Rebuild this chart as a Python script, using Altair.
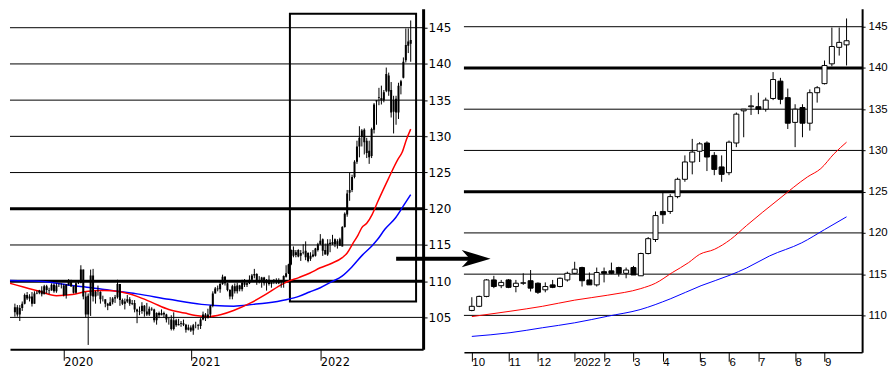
import json
import altair as alt
import pandas as pd

# ---------------- data ----------------
# weekly candles; week index 0 = first weekly candle of October 2021
HIST_FIRST_WEEK = -111

hist_open = [105.7, 106.4, 105.4, 106.3, 106.9, 108.1, 107.6, 107.9, 106.9, 108.3,
             108.4, 108.7, 108.2, 109.3, 108.8, 108.7, 109.5, 108.6, 109.4, 109.4,
             109.4, 108.1, 109.5, 110.1, 109.3, 108.4, 109.7, 109.8, 111.6, 107.9,
             105.4, 108.0, 110.8, 107.9, 108.5, 108.5, 107.5, 107.5, 106.9, 106.6,
             107.1, 107.6, 107.8, 109.6, 107.4, 106.9, 107.2, 107.5, 106.9, 107.0,
             106.1, 105.8, 105.9, 106.6, 105.8, 105.4, 106.2, 106.1, 104.6, 105.6,
             105.3, 105.6, 105.4, 104.7, 104.7, 103.4, 104.6, 103.9, 104.1, 104.2,
             104.0, 103.3, 103.6, 103.2, 103.9, 103.9, 103.8, 104.7, 105.4, 104.9,
             105.4, 106.6, 108.3, 109.0, 108.9, 109.6, 110.6, 109.7, 108.8, 107.9,
             109.3, 108.6, 109.4, 108.9, 109.8, 109.5, 109.7, 110.2, 110.8, 111.0,
             110.1, 110.1, 110.5, 109.7, 110.2, 109.6, 109.8, 109.8, 109.7, 109.9, 109.9]
hist_high = [106.9, 106.7, 106.7, 107.2, 108.3, 108.5, 108.2, 108.5, 108.6, 108.7,
             108.8, 109.3, 109.5, 109.5, 109.1, 109.7, 109.7, 109.7, 109.7, 109.7,
             109.6, 109.6, 110.3, 110.2, 109.3, 110.0, 110.1, 112.2, 111.6, 108.5,
             108.3, 111.6, 111.7, 108.7, 109.4, 108.6, 108.0, 107.5, 107.0, 107.8,
             107.8, 108.1, 110.2, 109.6, 107.6, 107.6, 108.1, 107.8, 107.4, 107.4,
             106.2, 106.5, 107.1, 106.7, 107.0, 106.5, 106.4, 106.2, 105.7, 105.8,
             106.1, 105.8, 105.5, 105.0, 105.3, 105.7, 104.8, 104.8, 104.5, 104.7,
             104.1, 104.0, 103.9, 104.1, 104.4, 104.1, 104.9, 105.8, 105.6, 106.2,
             106.7, 108.6, 109.2, 109.4, 109.9, 110.9, 110.7, 109.8, 108.9, 109.5,
             109.7, 109.8, 109.5, 110.2, 110.3, 109.8, 110.8, 111.0, 111.7, 111.1,
             110.7, 110.6, 110.6, 110.3, 110.8, 110.1, 110.3, 110.4, 110.4, 110.1, 110.8]
hist_low = [105.1, 105.1, 104.5, 105.9, 106.8, 107.4, 107.2, 106.5, 106.9, 108.2,
            108.2, 107.9, 108.2, 108.3, 108.2, 108.7, 108.4, 108.4, 109.2, 109.0,
            107.9, 107.6, 109.4, 109.2, 108.3, 108.3, 109.6, 109.7, 107.5, 105.0,
            101.2, 105.2, 107.2, 106.9, 108.0, 106.9, 107.2, 106.4, 106.0, 106.6,
            106.8, 107.0, 107.6, 106.6, 106.7, 106.1, 107.0, 106.6, 106.7, 105.7,
            104.2, 105.3, 105.5, 105.1, 105.2, 105.2, 105.9, 104.3, 104.0, 104.9,
            105.3, 105.0, 104.3, 104.0, 103.2, 103.2, 103.7, 103.9, 103.7, 103.8,
            102.9, 103.2, 103.0, 102.6, 103.5, 103.3, 103.4, 104.6, 104.5, 104.9,
            105.0, 106.4, 108.3, 108.6, 108.4, 109.5, 109.4, 108.6, 107.5, 107.5,
            108.3, 108.3, 108.6, 108.6, 109.2, 109.2, 109.6, 110.0, 110.4, 109.5,
            109.7, 109.1, 109.4, 108.7, 109.4, 109.1, 109.6, 109.6, 109.6, 109.1, 109.1]
hist_close = [106.4, 105.4, 106.3, 106.9, 108.1, 107.6, 107.9, 106.9, 108.3, 108.4,
              108.7, 108.2, 109.3, 108.8, 108.7, 109.5, 108.6, 109.4, 109.4, 109.4,
              108.1, 109.5, 110.1, 109.3, 108.4, 109.7, 109.8, 111.6, 107.9, 105.4,
              108.0, 110.8, 107.9, 108.5, 108.5, 107.5, 107.5, 106.9, 106.6, 107.1,
              107.6, 107.8, 109.6, 107.4, 106.9, 107.2, 107.5, 106.9, 107.0, 106.1,
              105.8, 105.9, 106.6, 105.8, 105.4, 106.2, 106.1, 104.6, 105.6, 105.3,
              105.6, 105.4, 104.7, 104.7, 103.4, 104.6, 103.9, 104.1, 104.2, 104.0,
              103.3, 103.6, 103.2, 103.9, 103.9, 103.8, 104.7, 105.4, 104.9, 105.4,
              106.6, 108.3, 109.0, 108.9, 109.6, 110.6, 109.7, 108.8, 107.9, 109.3,
              108.6, 109.4, 108.9, 109.8, 109.5, 109.7, 110.2, 110.8, 111.0, 110.1,
              110.1, 110.5, 109.7, 110.2, 109.6, 109.8, 109.8, 109.7, 109.9, 109.9, 110.7]

recent_open = [110.6, 111.1, 112.3, 114.3, 113.6, 114.3, 113.5, 113.9, 114.2, 113.9,
               113.1, 113.7, 113.5, 114.3, 115.1, 115.8, 114.3, 113.7, 115.3, 115.4,
               115.8, 115.1, 115.8, 114.8, 117.5, 119.2, 122.6, 122.6, 124.4, 126.5,
               128.6, 129.9, 130.9, 129.4, 128.0, 127.3, 130.9, 134.8, 135.3, 135.3,
               135.0, 136.3, 138.4, 136.4, 133.4, 135.2, 133.3, 137.0, 138.1, 140.5,
               142.5, 142.8]
recent_high = [112.2, 112.4, 114.4, 114.8, 114.3, 114.4, 114.3, 115.1, 115.5, 114.0,
               114.0, 114.3, 114.6, 115.3, 116.5, 115.9, 115.2, 115.8, 115.8, 116.4,
               115.9, 115.8, 116.0, 117.6, 119.5, 122.6, 125.0, 124.7, 126.7, 129.4,
               131.4, 131.0, 131.1, 129.8, 129.4, 131.2, 134.6, 135.0, 136.7, 137.0,
               136.4, 139.5, 138.8, 137.5, 135.6, 135.6, 137.4, 137.8, 140.9, 144.9,
               144.9, 146.0]
recent_low = [110.5, 111.0, 112.2, 113.3, 113.3, 113.3, 112.8, 113.7, 112.9, 112.6,
              112.8, 113.3, 113.4, 114.1, 115.0, 113.5, 113.7, 113.5, 114.0, 115.0,
              114.7, 114.5, 114.9, 114.8, 117.4, 118.9, 121.1, 122.3, 124.2, 126.2,
              127.1, 128.6, 127.5, 127.0, 126.2, 127.0, 130.4, 131.6, 134.3, 134.4,
              134.7, 136.1, 135.6, 132.6, 130.4, 131.6, 132.4, 135.8, 138.0, 140.2,
              141.5, 140.3]
recent_close = [111.1, 112.3, 114.3, 113.5, 114.0, 113.4, 113.9, 113.95, 113.3, 112.8,
                113.5, 113.4, 114.5, 115.1, 115.6, 114.2, 113.7, 115.2, 115.1, 115.1,
                115.1, 115.5, 114.9, 117.5, 119.3, 122.1, 122.2, 124.4, 126.5, 128.6,
                129.8, 130.8, 129.2, 127.7, 127.1, 131.0, 134.4, 135.0, 135.4, 135.0,
                136.1, 138.6, 136.2, 133.3, 135.0, 133.3, 137.0, 137.6, 140.3, 142.6,
                143.1, 143.3]

# moving averages (week, value)
red_ma_week = [-114, -107.5, -101, -94, -87.5, -81, -74.5, -67.5, -61, -54.5,
               -48, -41.5, -37, -32, -26.5, -21.5, -14.5, -8, -1.5, 0,
               5.2, 9.6, 14, 18.5, 23, 25, 27.3, 29.5, 31, 33,
               35.2, 37.4, 41.8, 45.7, 47.5, 49.3, 51]
red_ma_value = [109.8, 109.2, 108.6, 108.0, 108.15, 108.6, 108.7, 108.5, 107.9, 107.0,
                106.1, 105.6, 105.25, 105.1, 105.4, 105.95, 107.0, 108.25, 109.6, 109.85,
                110.5, 111.1, 111.85, 112.45, 113.25, 113.9, 115.2, 116.4, 117.4, 118.0,
                119.2, 120.9, 124.1, 126.8, 127.8, 129.6, 131.0]
blue_ma_week = [-114, -101, -87.6, -79.7, -74.4, -61, -48, -34.6, -29.3, -21.4,
                -13.4, -8, 0, 5.2, 9.6, 14, 18.5, 22.9, 27, 31.2,
                35.2, 37.4, 40.5, 44.9, 48, 51]
blue_ma_value = [110.1, 110.0, 109.4, 109.1, 108.85, 108.25, 107.5, 106.8, 106.65, 106.55,
                 106.8, 107.0, 107.45, 107.9, 108.5, 109.1, 109.9, 110.7, 112.0, 113.6,
                 114.9, 115.75, 117.2, 118.8, 120.4, 121.95]

left_ticks = [-91, -39, 14]
left_tick_labels = ["2020", "2021", "2022"]
right_ticks = [0, 5, 9, 14, 18, 22, 26, 31, 35, 39, 44, 48]
right_tick_labels = ["10", "11", "12", "2022", "2", "3", "4", "5", "6", "7", "8", "9"]

left_price_ticks = [105, 110, 115, 120, 125, 130, 135, 140, 145]
right_price_ticks = [110, 115, 120, 125, 130, 135, 140, 145]
left_grid_thin = [105, 115, 125, 130, 135, 140, 145]
left_grid_thick = [110, 120]
right_grid_thin = [110, 115, 120, 130, 135, 145]
right_grid_thick = [125, 140]

# zoom window marked on the long-term chart
zoom_box = {"w1": 1.56, "w2": 53.2, "p1": 107.2, "p2": 146.92}
# arrow pointing from the long-term chart to the zoomed chart
arrow = {"w_from": -10.3, "w_to": 0.6, "w_head": 0.59, "level": 116.88}

# ---------------- frames ----------------
weeks = list(range(HIST_FIRST_WEEK, 0)) + list(range(0, len(recent_close)))
ohlc = pd.DataFrame({
    "week": weeks,
    "open": hist_open + recent_open,
    "high": hist_high + recent_high,
    "low": hist_low + recent_low,
    "close": hist_close + recent_close,
})
ohlc["dir"] = ["up" if c >= o else "down" for o, c in zip(ohlc["open"], ohlc["close"])]
recent = ohlc[ohlc["week"] >= 0]

red_df = pd.DataFrame({"week": red_ma_week, "ma": red_ma_value})
blue_df = pd.DataFrame({"week": blue_ma_week, "ma": blue_ma_value})


def tick_expr(values, labels):
    return f"{json.dumps(labels)}[indexof({json.dumps(values)}, datum.value)]"


FONT_LEFT = "DejaVu Sans"
FONT_RIGHT = "Liberation Sans"

# ---------------- left (long-term) panel ----------------
L_W, L_H = 415, 342
lx_scale = alt.Scale(domain=[-110.97, 54.04], nice=False, zero=False)
ly_scale = alt.Scale(domain=[100.60, 147.61], nice=False, zero=False)
lx_axis = alt.Axis(values=left_ticks, labelExpr=tick_expr(left_ticks, left_tick_labels),
                   grid=False, domainWidth=2, domainColor="black", tickColor="black",
                   tickWidth=1, tickSize=11, labelPadding=-4, labelAlign="left",
                   labelBaseline="top", labelFont=FONT_LEFT, labelFontSize=11.5,
                   labelColor="black", labelFlush=False, labelOverlap=False, title=None)
ly_axis = alt.Axis(orient="right", values=left_price_ticks, grid=False, domainWidth=3,
                   domainColor="black", tickColor="black", tickWidth=1, tickSize=4,
                   labelPadding=1, labelFont=FONT_LEFT, labelFontSize=12,
                   labelColor="black", labelFlush=False, labelOverlap=False, title=None)


def LX(field):
    return alt.X(field, type="quantitative", scale=lx_scale, axis=lx_axis)


def LY(field):
    return alt.Y(field, type="quantitative", scale=ly_scale, axis=ly_axis)


l_grid_thin = alt.Chart(pd.DataFrame({"level": left_grid_thin})).mark_rule(
    color="black", strokeWidth=1).encode(y=LY("level"))
l_grid_thick = alt.Chart(pd.DataFrame({"level": left_grid_thick})).mark_rule(
    color="black", strokeWidth=3).encode(y=LY("level"))
l_box = alt.Chart(pd.DataFrame([zoom_box])).mark_rect(
    fillOpacity=0, stroke="black", strokeWidth=2).encode(
    x=LX("w1"), x2="w2", y=LY("p1"), y2="p2")
l_red = alt.Chart(red_df).mark_line(color="#ff0000", strokeWidth=1.5, clip=True,
                                    interpolate="monotone").encode(x=LX("week"), y=LY("ma"))
l_blue = alt.Chart(blue_df).mark_line(color="#0000ff", strokeWidth=1.5, clip=True,
                                      interpolate="monotone").encode(x=LX("week"), y=LY("ma"))
l_wick = alt.Chart(ohlc).mark_rule(color="black", strokeWidth=1, clip=True).encode(
    x=LX("week"), y=LY("low"), y2="high")
l_body = alt.Chart(ohlc).mark_bar(color="black", size=2, clip=True).encode(
    x=LX("week"), y=LY("open"), y2="close")

left = alt.layer(l_grid_thin, l_grid_thick, l_box, l_blue, l_red, l_wick, l_body).properties(
    width=L_W, height=L_H)

# ---------------- right (zoomed) panel ----------------
R_W, R_H = 400, 345
rx_scale = alt.Scale(domain=[-0.396, 52.44], nice=False, zero=False)
ry_scale = alt.Scale(domain=[105.53, 147.17], nice=False, zero=False)
rx_axis = alt.Axis(values=right_ticks, labelExpr=tick_expr(right_ticks, right_tick_labels),
                   grid=False, domainWidth=1.5, domainColor="black", tickColor="black",
                   tickWidth=1, tickSize=9, labelPadding=-5, labelAlign="left",
                   labelBaseline="top", labelFont=FONT_RIGHT, labelFontSize=11.5,
                   labelColor="black", labelFlush=False, labelOverlap=False, title=None)
ry_axis = alt.Axis(orient="right", values=right_price_ticks, grid=False, domainWidth=2,
                   domainColor="black", tickColor="black", tickWidth=1, tickSize=3,
                   labelPadding=3, labelFont=FONT_RIGHT, labelFontSize=11.5,
                   labelColor="black", labelFlush=False, labelOverlap=False, title=None)


def RX(field):
    return alt.X(field, type="quantitative", scale=rx_scale, axis=rx_axis)


def RY(field):
    return alt.Y(field, type="quantitative", scale=ry_scale, axis=ry_axis)


r_grid_thin = alt.Chart(pd.DataFrame({"level": right_grid_thin})).mark_rule(
    color="black", strokeWidth=1).encode(y=RY("level"))
r_grid_thick = alt.Chart(pd.DataFrame({"level": right_grid_thick})).mark_rule(
    color="black", strokeWidth=3).encode(y=RY("level"))
r_red = alt.Chart(red_df).transform_filter("datum.week >= 0").mark_line(
    color="#ff0000", strokeWidth=1, interpolate="monotone").encode(x=RX("week"), y=RY("ma"))
r_blue = alt.Chart(blue_df).transform_filter("datum.week >= 0").mark_line(
    color="#0000ff", strokeWidth=1, interpolate="monotone").encode(x=RX("week"), y=RY("ma"))
r_wick = alt.Chart(recent).mark_rule(color="black", strokeWidth=1).encode(
    x=RX("week"), y=RY("low"), y2="high")
r_body = alt.Chart(recent).mark_bar(size=5, stroke="black", strokeWidth=1).encode(
    x=RX("week"), y=RY("open"), y2="close",
    fill=alt.Fill("dir:N", scale=alt.Scale(domain=["up", "down"], range=["white", "black"]),
                  legend=None))

arrow_df = pd.DataFrame([arrow])
r_shaft = alt.Chart(arrow_df).mark_rule(color="black", strokeWidth=4).encode(
    x=RX("w_from"), x2="w_to", y=RY("level"))
r_head = alt.Chart(arrow_df).mark_point(
    shape="M 1 0 L -1 -0.6 L -0.45 0 L -1 0.6 Z", size=841, filled=True,
    color="black", opacity=1, strokeWidth=0).encode(x=RX("w_head"), y=RY("level"))

right = alt.layer(r_grid_thin, r_grid_thick, r_blue, r_red, r_wick, r_body,
                  r_shaft, r_head).properties(width=R_W, height=R_H)

chart = alt.hconcat(left, right, spacing=41, bounds="flush").properties(
    padding=0, background="white").configure_view(strokeOpacity=0)

chart.save("out.html", embed_options={"renderer": "svg", "actions": False})
